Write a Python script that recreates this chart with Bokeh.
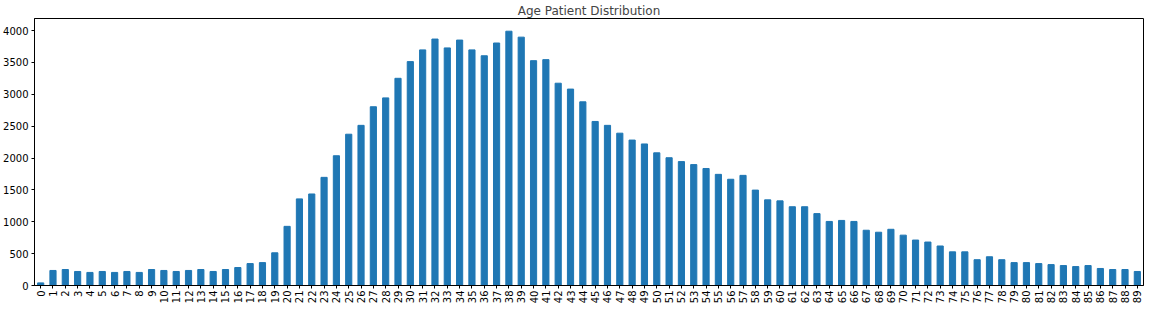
from bokeh.plotting import figure
from bokeh.models import Range1d, FixedTicker, ColumnDataSource
from bokeh.embed import file_html
from bokeh.resources import INLINE
import math

ages = [str(i) for i in range(90)]
counts = [41, 236, 251, 220, 205, 220, 205, 220, 205, 251,
          236, 220, 236, 251, 220, 251, 282, 344, 359, 513,
          928, 1359, 1436, 1697, 2036, 2374, 2513, 2805, 2944, 3251,
          3513, 3697, 3867, 3728, 3851, 3697, 3605, 3805, 3990, 3897,
          3528, 3544, 3174, 3082, 2882, 2574, 2513, 2390, 2282, 2221,
          2082, 2005, 1944, 1897, 1836, 1744, 1667, 1728, 1497, 1344,
          1328, 1236, 1236, 1128, 1005, 1021, 1005, 867, 836, 882,
          790, 713, 682, 620, 528, 528, 405, 451, 405, 359,
          359, 344, 328, 313, 297, 313, 267, 251, 251, 220]
y_ticks = [0, 500, 1000, 1500, 2000, 2500, 3000, 3500, 4000]

src = ColumnDataSource(dict(age=ages, count=counts))

p = figure(x_range=ages, width=1148, height=306, output_backend="svg",
           toolbar_location=None, title="Age Patient Distribution",
           min_border_left=27, min_border_right=5, min_border_top=0,
           min_border_bottom=0)
p.y_range = Range1d(0, max(counts) * 1.05)
p.vbar(x="age", top="count", width=0.5, source=src, color="#1f77b4")

p.title.align = "center"
p.title.text_font = "DejaVu Sans"
p.title.text_font_size = "12px"
p.title.text_font_style = "normal"
p.title.standoff = 2

p.xgrid.visible = False
p.ygrid.visible = False
p.outline_line_color = "black"
p.outline_line_width = 1
p.outline_line_alpha = 1

for ax in (p.xaxis[0], p.yaxis[0]):
    ax.major_label_text_font = "DejaVu Sans"
    ax.major_label_text_font_size = "10px"
    ax.major_label_text_color = "black"
    ax.axis_line_color = "black"
    ax.major_tick_line_color = "black"
    ax.major_tick_out = 3
    ax.major_tick_in = 0
    ax.minor_tick_line_color = None
    ax.major_label_standoff = 3
    ax.axis_label = None
    ax.axis_label_standoff = 0

p.xaxis.major_label_standoff = 2
p.yaxis.ticker = FixedTicker(ticks=y_ticks)
p.xaxis.major_label_orientation = math.pi / 2
p.x_range.range_padding = 0

open("out.html", "w").write(file_html(p, INLINE))
